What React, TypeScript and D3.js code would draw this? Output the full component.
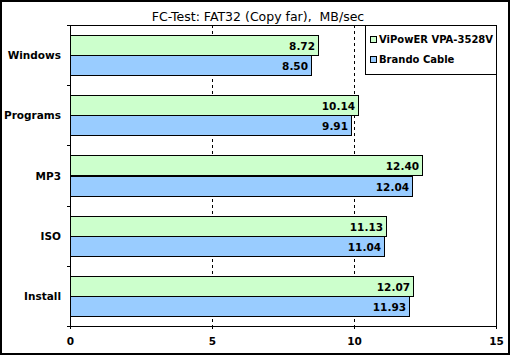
import React from "react";
import * as d3 from "d3";

const categories = ["Windows", "Programs", "MP3", "ISO", "Install"];
const seriesNames = ["ViPowER VPA-3528V", "Brando Cable"];
const viPowerValues = [8.72, 10.14, 12.4, 11.13, 12.07];
const brandoValues = [8.5, 9.91, 12.04, 11.04, 11.93];
const xTicks = [0, 5, 10, 15];
const seriesColors = ["#CCFFCC", "#99CCFF"];
const title = "FC-Test: FAT32 (Copy far),  MB/sec";

const W = 510;
const H = 355;
const L = 70, R = 496, T = 25, B = 326;
const FONT = "'DejaVu Sans', Verdana, sans-serif";

export default function App() {
  const x = d3.scaleLinear().domain([0, 15]).range([L, R]);
  const y = d3.scaleBand<string>().domain(categories).range([T, B]);
  const bw = y.bandwidth();
  const inner = d3.scaleBand<number>().domain([0, 1]).range([10, bw - 10]);
  const series = [viPowerValues, brandoValues];
  const px = (v: number) => Math.round(v) + 0.5;

  return (
    <svg width={W} height={H} style={{ position: "absolute", left: 0, top: 0 }} fontFamily={FONT}>
      <rect x={0} y={0} width={W} height={H} fill="#fff" />
      <rect x={1} y={1} width={W - 2} height={H - 2} fill="none" stroke="#000" strokeWidth={2} />
      <text x={258} y={21} textAnchor="middle" fontSize={12.5} fill="#000" style={{ whiteSpace: "pre" }}>{title}</text>

      {/* gridlines */}
      {xTicks.filter((t) => t > 0 && t < 15).map((t) => (
        <line key={t} x1={px(x(t))} x2={px(x(t))} y1={T} y2={B} stroke="#000" strokeDasharray="3,3" />
      ))}

      {/* plot frame top/right */}
      <line x1={L} x2={R + 0.5} y1={px(T)} y2={px(T)} stroke="#000" />
      <line x1={px(R)} x2={px(R)} y1={T} y2={B} stroke="#000" />

      {/* bars */}
      {categories.map((c, i) => (
        <g key={c}>
          {series.map((vals, s) => {
            const y0 = Math.round((y(c) as number) + (inner(s) as number));
            const h = Math.round(inner.bandwidth());
            const x1 = Math.round(x(vals[i]));
            return (
              <g key={s}>
                <rect x={px(x(0))} y={y0 + 0.5} width={x1 - Math.round(x(0))} height={h} fill={seriesColors[s]} stroke="#000" />
                <text x={x1 - 3} y={y0 + h / 2 + 5} textAnchor="end" fontSize={10.5} fontWeight="bold" fill="#000">
                  {vals[i].toFixed(2)}
                </text>
              </g>
            );
          })}
          <text x={61} y={(y(c) as number) + bw / 2 + 4} textAnchor="end" fontSize={10.5} fontWeight="bold" fill="#000">{c}</text>
        </g>
      ))}

      {/* left axis */}
      <line x1={px(L)} x2={px(L)} y1={T} y2={B + 0.5} stroke="#000" />
      {[...categories.map((c) => y(c) as number), B].map((v, i) => (
        <line key={i} x1={L - 3} x2={L} y1={px(v)} y2={px(v)} stroke="#000" />
      ))}

      {/* bottom axis */}
      <line x1={L} x2={R + 1} y1={px(B)} y2={px(B)} stroke="#000" />
      {xTicks.map((t) => (
        <g key={t}>
          <line x1={px(x(t))} x2={px(x(t))} y1={B} y2={B + 3} stroke="#000" />
          <text x={x(t) + 0.5} y={345} textAnchor="middle" fontSize={10.5} fontWeight="bold" fill="#000">{t}</text>
        </g>
      ))}

      {/* legend */}
      <rect x={365.5} y={25.5} width={131} height={49} fill="#fff" stroke="#000" />
      {seriesNames.map((n, s) => (
        <g key={n}>
          <rect x={370.5} y={36.5 + s * 20} width={6} height={6} fill={seriesColors[s]} stroke="#000" />
          <text x={379} y={43 + s * 20} fontSize={10} fontWeight="bold" fill="#000">{n}</text>
        </g>
      ))}
    </svg>
  );
}
